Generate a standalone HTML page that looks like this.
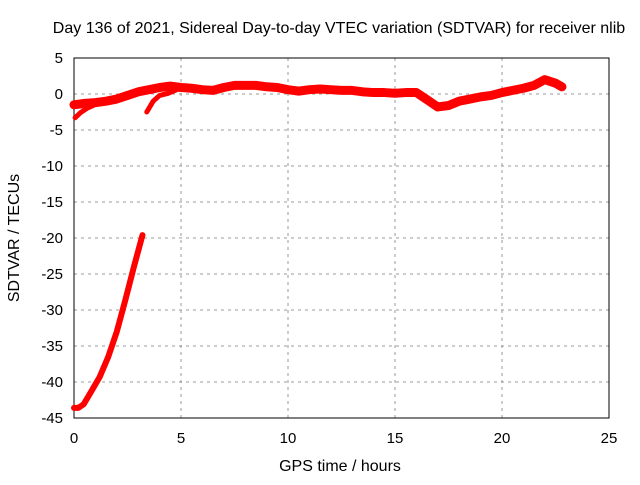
<!DOCTYPE html>
<html><head><meta charset="utf-8"><style>
body{margin:0;background:#fff}
svg text{font-family:"Liberation Sans",sans-serif;font-size:15px;fill:#000}
svg text.big{font-size:16px}
</style></head><body>
<svg id="c" width="640" height="480"></svg>
<script>
const xTicks=[0,5,10,15,20,25];
const yTicks=[5,0,-5,-10,-15,-20,-25,-30,-35,-40,-45];
const bandHours=[0,0.5,1,1.5,2,2.5,3,3.5,4,4.5,5,5.5,6,6.5,7,7.5,8,8.5,9,9.5,10,10.5,11,11.5,12,12.5,13,13.5,14,14.5,15,15.5,16,16.5,17,17.5,18,18.5,19,19.5,20,20.5,21,21.5,22,22.5,22.8];
const bandValues=[-1.5,-1.3,-1.2,-1,-0.7,-0.2,0.3,0.6,0.9,1.1,0.9,0.8,0.6,0.5,0.9,1.2,1.2,1.2,1,0.9,0.6,0.4,0.6,0.7,0.6,0.5,0.5,0.3,0.2,0.2,0.1,0.2,0.2,-0.8,-1.8,-1.6,-1,-0.7,-0.4,-0.2,0.2,0.5,0.8,1.2,2,1.5,1];
const branchHours=[0.05,0.3,0.6,0.9];
const branchValues=[-3.3,-2.6,-2.0,-1.6];
const branch2Hours=[3.4,3.7,4.0,4.4,4.8];
const branch2Values=[-2.5,-1.0,-0.2,0.1,0.6];
const lowHours=[0,0.2,0.45,0.75,1.2,1.6,2.0,2.4,2.8,3.2];
const lowValues=[-43.6,-43.6,-43.1,-41.6,-39.3,-36.5,-33,-28.6,-24,-19.6];
const X0=74,X1=609,Y0=58,Y1=418;
const sx=h=>X0+(h-0)/25*(X1-X0);
const sy=v=>Y0+(5-v)/50*(Y1-Y0);
const svg=document.getElementById('c');
const NS='http://www.w3.org/2000/svg';
function mk(t,a){const e=document.createElementNS(NS,t);for(const k in a)e.setAttribute(k,a[k]);svg.appendChild(e);return e;}
xTicks.forEach(t=>{
 const l=mk('line',{x1:sx(t),x2:sx(t),y1:Y0,y2:Y1,stroke:'#999','stroke-dasharray':'3,4'});
 
 
 const tx=mk('text',{x:sx(t),y:Y1+25,'text-anchor':'middle'});tx.textContent=t;
 
 
});
yTicks.forEach(t=>{
 const l=mk('line',{x1:X0,x2:X1,y1:sy(t),y2:sy(t),stroke:'#999','stroke-dasharray':'3,4'});
 
 
 const tx=mk('text',{x:X0-11,y:sy(t)+5,'text-anchor':'end'});tx.textContent=t;
 
 
});
const fr=mk('rect',{x:X0,y:Y0,width:X1-X0,height:Y1-Y0,fill:'none',stroke:'#000'});


function line(hs,vs,w,name){
 const p=mk('polyline',{points:hs.map((h,i)=>sx(h)+','+sy(vs[i])).join(' '),fill:'none',stroke:'#f00','stroke-width':w,'stroke-linejoin':'round','stroke-linecap':'round'});
 
 
}
line(bandHours,bandValues,9,'sdtvar-main-band');
line(branchHours,branchValues,5,'sdtvar-branch-early');
line(branch2Hours,branch2Values,5,'sdtvar-branch-mid');
line(lowHours,lowValues,6,'sdtvar-low-curve');
const t1=mk('text',{x:339,y:33,'text-anchor':'middle',class:'big'});t1.textContent='Day 136 of 2021, Sidereal Day-to-day VTEC variation (SDTVAR) for receiver nlib';


const t2=mk('text',{x:340,y:471,'text-anchor':'middle',class:'big'});t2.textContent='GPS time / hours';


const t3=mk('text',{x:19,y:238,'text-anchor':'middle',class:'big',transform:'rotate(-90 19 238)'});t3.textContent='SDTVAR / TECUs';


</script>
</body></html>
